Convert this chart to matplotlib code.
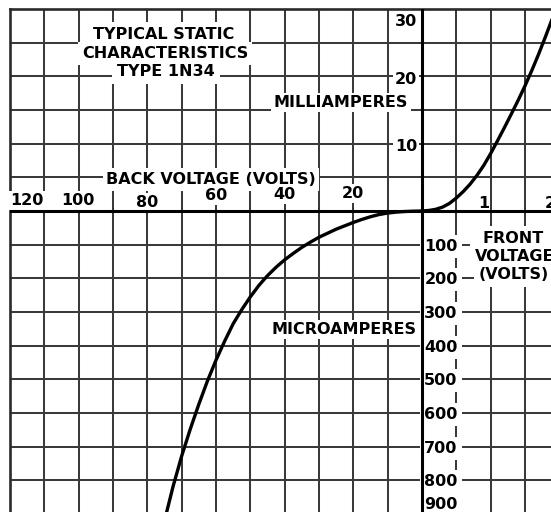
import numpy as np
import matplotlib
matplotlib.use("Agg")
import matplotlib.pyplot as plt
from matplotlib.ticker import FixedLocator

# Forward characteristic: front voltage (V) against current (mA)
front_volts = [0.0, 0.1, 0.2, 0.3, 0.4, 0.5, 0.6, 0.7, 0.8, 0.9, 1.0,
               1.1, 1.2, 1.3, 1.4, 1.5, 1.6, 1.7, 1.8, 1.9]
front_ma = [0.0, 0.08, 0.25, 0.58, 1.13, 1.93, 2.88, 3.98, 5.28, 6.78, 8.53,
            10.43, 12.38, 14.38, 16.43, 18.58, 20.88, 23.33, 25.93, 28.63]

# Reverse characteristic: back voltage (V) against current (microamperes)
back_volts = [0, 2.5, 5, 7.5, 10, 12.5, 15, 17.5, 20, 22.5, 25, 27.5, 30,
              32.5, 35, 37.5, 40, 42.5, 45, 47.5, 50, 52.5, 55, 57.5, 60,
              62.5, 65, 67.5, 70, 72.5, 75]
back_ua = [0, 0.5, 1.5, 3.3, 6, 10.5, 17, 25, 34, 44, 54, 66, 78,
           92.5, 108, 126, 145, 167, 192, 221, 255, 293, 335, 387, 443,
           505, 574, 648, 728, 818, 920]

# Scale labels
back_tick_labels = [120, 100, 80, 60, 40, 20]
front_tick_labels = [1, 2]
ma_tick_labels = [30, 20, 10]
ua_tick_labels = [100, 200, 300, 400, 500, 600, 700, 800, 900]

# Grid divisions: 10 V / 0.5 V per square on x, 100 uA / 5 mA per square on y
BACK_STEP, FRONT_STEP = 10.0, 0.5
UA_STEP, MA_STEP = 100.0, 5.0


def x_fwd(v):
    v = np.asarray(v, dtype=float)
    return np.where(v < 0, v / BACK_STEP, v / FRONT_STEP)


def x_inv(g):
    g = np.asarray(g, dtype=float)
    return np.where(g < 0, g * BACK_STEP, g * FRONT_STEP)


def y_fwd(i):
    i = np.asarray(i, dtype=float)
    return np.where(i < 0, i / UA_STEP, i / MA_STEP)


def y_inv(g):
    g = np.asarray(g, dtype=float)
    return np.where(g < 0, g * UA_STEP, g * MA_STEP)


W, H = 551, 512
fig = plt.figure(figsize=(W / 100, H / 100), dpi=100)
ax = fig.add_axes([10 / W, 0, 541 / W, 503 / H])
ax.set_xscale("function", functions=(x_fwd, x_inv))
ax.set_yscale("function", functions=(y_fwd, y_inv))
ax.set_xlim(-120, 1.879)
ax.set_ylim(-894, 30)

grid_x = [-v for v in range(110, 0, -10)] + [0.5, 1.0, 1.5]
grid_y = [-v for v in range(800, 0, -100)] + [5, 10, 15, 20, 25]
ax.xaxis.set_major_locator(FixedLocator(grid_x))
ax.yaxis.set_major_locator(FixedLocator(grid_y))
ax.tick_params(length=0, labelleft=False, labelbottom=False)
ax.set_axisbelow(True)
ax.grid(True, color="#3a3a3a", linewidth=1.45)

for side in ("right", "bottom"):
    ax.spines[side].set_visible(False)
for side in ("left", "top"):
    ax.spines[side].set_color("#2a2a2a")
    ax.spines[side].set_linewidth(1.9)

ax.axhline(0, color="black", linewidth=2.2, zorder=5)
ax.axvline(0, color="black", linewidth=2.2, zorder=5)

ax.plot(front_volts, front_ma, color="black", linewidth=2.4, zorder=4,
        solid_capstyle="round", solid_joinstyle="round")
ax.plot([-v for v in back_volts], [-i for i in back_ua], color="black",
        linewidth=2.4, zorder=4, solid_capstyle="round", solid_joinstyle="round")

FONT = dict(family="DejaVu Sans", weight="bold", size=11.5, color="black")
HALF_CAP = 6


def box(pad):
    return dict(boxstyle=f"square,pad={pad}", facecolor="white", edgecolor="none")


def note(x, y, s, pad=0.25):
    ax.annotate(s, xy=(x, H - y - HALF_CAP), xycoords="figure pixels",
                ha="center", va="baseline", bbox=box(pad), zorder=3,
                annotation_clip=False, **FONT)


def scale_label(xv, yv, s, dx, dy, pad=0.2, boxed=True):
    ax.annotate(s, xy=(xv, yv), xycoords="data",
                xytext=(dx, -dy - HALF_CAP), textcoords="offset pixels",
                ha="center", va="baseline", bbox=box(pad) if boxed else None,
                zorder=3, annotation_clip=False, **FONT)


# Headings
note(164, 33, "TYPICAL STATIC", pad=0.3)
note(165, 52, "CHARACTERISTICS", pad=0.25)
note(166, 70, "TYPE 1N34", pad=0.3)
note(341, 101, "MILLIAMPERES", pad=0.15)
note(211, 178, "BACK VOLTAGE (VOLTS)", pad=0.22)
note(344, 328, "MICROAMPERES", pad=0.15)
note(513, 237, "FRONT", pad=0.3)
note(515, 255, "VOLTAGE", pad=0.3)
note(514, 273, "(VOLTS)", pad=0.3)

# Back voltage scale along the horizontal axis
back_offsets = {120: (17, -12), 100: (-1, -12), 80: (0, -10),
                60: (0, -17), 40: (0, -18), 20: (0, -19)}
for v in back_tick_labels:
    dx, dy = back_offsets[v]
    scale_label(-v, 0, str(v), dx, dy, pad=0.1)

# Front voltage scale
front_offsets = {1: (-7, -9), 2: (-9, -9)}
for v in front_tick_labels:
    dx, dy = front_offsets[v]
    scale_label(v, 0, str(v), dx, dy, boxed=False)

# Milliampere scale
ma_offsets = {30: 11, 20: 2, 10: 1}
for v in ma_tick_labels:
    scale_label(0, v, str(v), -16, ma_offsets[v], pad=0.12)

# Microampere scale
for v in ua_tick_labels:
    dy = -11 if v == 900 else 0
    scale_label(0, -v, str(v), 19, dy, pad=0.25)

fig.savefig("out.png", dpi=100, facecolor="white")
